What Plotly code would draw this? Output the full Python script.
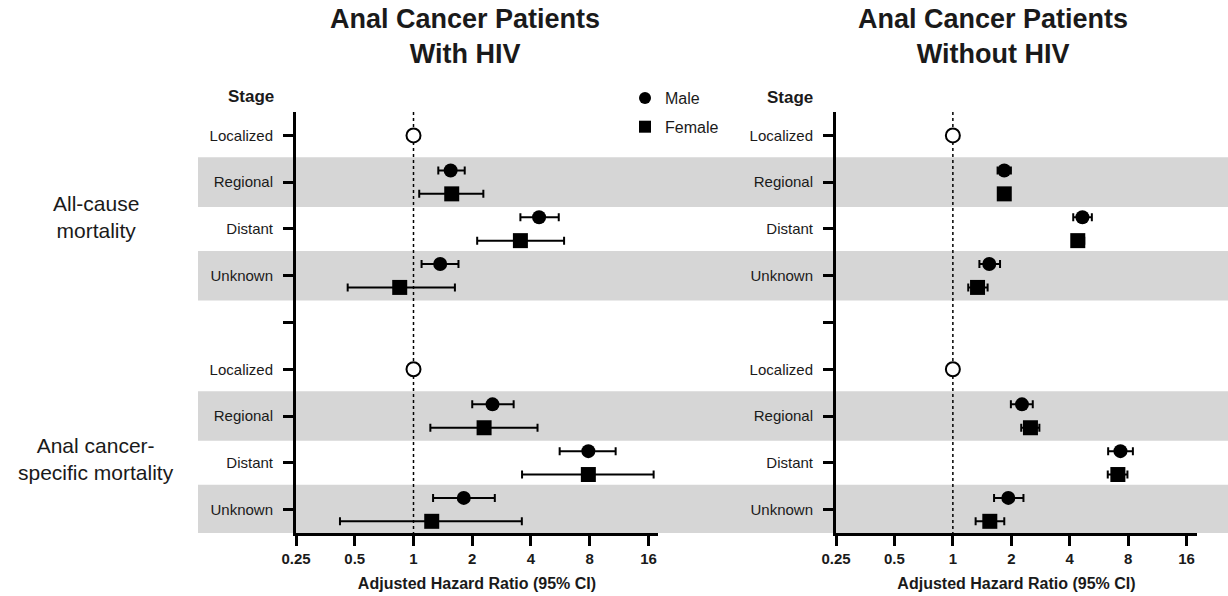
import math
import plotly.graph_objects as go

# ---------------- data ----------------
stages = ["Localized", "Regional", "Distant", "Unknown"]
outcomes = ["All-cause<br>mortality", "Anal cancer-<br>specific mortality"]
x_ticks = [0.25, 0.5, 1, 2, 4, 8, 16]
x_tick_text = ["0.25", "0.5", "1", "2", "4", "8", "16"]
reference_hr = 1.0  # Localized = reference

# Values for Regional, Distant, Unknown
# With HIV, all-cause mortality
hiv_ac_male_hr = [1.55, 4.40, 1.37]
hiv_ac_male_lo = [1.34, 3.53, 1.10]
hiv_ac_male_hi = [1.83, 5.55, 1.70]
hiv_ac_female_hr = [1.57, 3.53, 0.85]
hiv_ac_female_lo = [1.07, 2.12, 0.46]
hiv_ac_female_hi = [2.28, 5.91, 1.63]
# With HIV, anal cancer-specific mortality
hiv_cs_male_hr = [2.54, 7.87, 1.81]
hiv_cs_male_lo = [2.00, 5.61, 1.26]
hiv_cs_male_hi = [3.26, 10.86, 2.61]
hiv_cs_female_hr = [2.30, 7.87, 1.24]
hiv_cs_female_lo = [1.22, 3.60, 0.42]
hiv_cs_female_hi = [4.32, 17.0, 3.59]
# Without HIV, all-cause mortality
nohiv_ac_male_hr = [1.84, 4.65, 1.54]
nohiv_ac_male_lo = [1.70, 4.17, 1.37]
nohiv_ac_male_hi = [1.99, 5.20, 1.75]
nohiv_ac_female_hr = [1.84, 4.40, 1.34]
nohiv_ac_female_lo = [1.76, 4.12, 1.20]
nohiv_ac_female_hi = [1.93, 4.75, 1.51]
# Without HIV, anal cancer-specific mortality
nohiv_cs_male_hr = [2.27, 7.30, 1.93]
nohiv_cs_male_lo = [1.99, 6.31, 1.63]
nohiv_cs_male_hi = [2.58, 8.46, 2.31]
nohiv_cs_female_hr = [2.51, 7.08, 1.55]
nohiv_cs_female_lo = [2.25, 6.28, 1.31]
nohiv_cs_female_hi = [2.79, 7.93, 1.84]

# ---------------- layout helpers ----------------
PAGE_OFF = 0                # body margin is removed by post_script below
W, H = 1228 - PAGE_OFF, 596 - PAGE_OFF
FONT = "Liberation Sans, Arial, Helvetica, sans-serif"
TXT = "#1a1a1a"
BAND = "#d6d6d6"


def px(x):  # screen pixel -> paper x
    return (x - PAGE_OFF) / W


def py(y):  # screen pixel -> paper y
    return 1 - (y - PAGE_OFF) / H


n_st = len(stages)
block = n_st + 1  # 4 stages + a blank separator row
n_rows = 2 * block - 1
rows_all = list(range(n_rows))  # 0..8
tick_text = stages + [""] + stages
OFF = 0.25


def rows_for(b):
    return [b * block + i for i in range(1, n_st)]


fig = go.Figure()


def add_panel(xa, ya, male, female, showlegend):
    for sex, data, sym, off in (("Male", male, "circle", -OFF),
                                ("Female", female, "square", OFF)):
        ys, xs, lo, hi = [], [], [], []
        for b, (hr, l, h) in enumerate(data):
            ys += [r + off for r in rows_for(b)]
            xs += hr
            lo += l
            hi += h
        fig.add_trace(go.Scatter(
            x=xs, y=ys, mode="markers", name=sex, legendgroup=sex,
            showlegend=showlegend, xaxis=xa, yaxis=ya,
            marker=dict(symbol=sym, size=15 if sym == "square" else 14,
                        color="black", line=dict(width=0)),
            error_x=dict(type="data", symmetric=False,
                         array=[h_ - x_ for h_, x_ in zip(hi, xs)],
                         arrayminus=[x_ - l_ for l_, x_ in zip(lo, xs)],
                         color="black", thickness=2, width=4),
        ))
    # reference (Localized)
    fig.add_trace(go.Scatter(
        x=[reference_hr, reference_hr], y=[0, block], mode="markers",
        showlegend=False, xaxis=xa, yaxis=ya,
        marker=dict(symbol="circle", size=14, color="white",
                    line=dict(color="black", width=2)),
    ))


add_panel("x", "y",
          [(hiv_ac_male_hr, hiv_ac_male_lo, hiv_ac_male_hi),
           (hiv_cs_male_hr, hiv_cs_male_lo, hiv_cs_male_hi)],
          [(hiv_ac_female_hr, hiv_ac_female_lo, hiv_ac_female_hi),
           (hiv_cs_female_hr, hiv_cs_female_lo, hiv_cs_female_hi)],
          True)
add_panel("x2", "y2",
          [(nohiv_ac_male_hr, nohiv_ac_male_lo, nohiv_ac_male_hi),
           (nohiv_cs_male_hr, nohiv_cs_male_lo, nohiv_cs_male_hi)],
          [(nohiv_ac_female_hr, nohiv_ac_female_lo, nohiv_ac_female_hi),
           (nohiv_cs_female_hr, nohiv_cs_female_lo, nohiv_cs_female_hi)],
          False)

# shaded bands for Regional and Unknown rows, spanning both panels
shapes = []
for b in range(2):
    for i in (1, 3):
        r = b * block + i
        shapes.append(dict(type="rect", xref="paper", yref="y",
                           x0=px(198), x1=1.0, y0=r - 0.53, y1=r + 0.53,
                           fillcolor=BAND, line=dict(width=0), layer="below"))
# dotted reference line at HR = 1
for xa in ("x", "x2"):
    shapes.append(dict(type="line", xref=xa, yref="y",
                       x0=reference_hr, x1=reference_hr, y0=-0.5, y1=n_rows - 0.5,
                       line=dict(color="black", width=1.5, dash="dot"), layer="below"))

ydom = [py(533), py(112)]
common_x = dict(type="log", tickvals=x_ticks, ticktext=x_tick_text,
                showline=True, linewidth=3, linecolor="black",
                ticks="outside", ticklen=10, tickwidth=3, tickcolor="black",
                showgrid=False, zeroline=False, automargin=False,
                tickfont=dict(family=FONT, size=15, color=TXT, weight="bold"),
                title=dict(text="Adjusted Hazard Ratio (95% CI)", standoff=12,
                           font=dict(family=FONT, size=16, color=TXT, weight="bold")))
common_y = dict(range=[n_rows - 0.5, -0.5], tickvals=rows_all, ticktext=tick_text,
                showline=True, linewidth=3, linecolor="black",
                ticks="outside", ticklen=10, tickwidth=3, tickcolor="black",
                showgrid=False, zeroline=False, automargin=False, domain=ydom,
                ticklabelstandoff=7,
                tickfont=dict(family=FONT, size=15, color=TXT))

fig.update_layout(
    width=W, height=H,
    margin=dict(l=0, r=0, t=0, b=0),
    paper_bgcolor="white", plot_bgcolor="rgba(0,0,0,0)",
    font=dict(family=FONT, color=TXT),
    xaxis=dict(common_x, domain=[px(296), px(658)],
               range=[math.log10(0.25), math.log10(17.9)], anchor="y"),
    yaxis=dict(common_y, anchor="x"),
    xaxis2=dict(common_x, domain=[px(836), px(1197)],
                range=[math.log10(0.25), math.log10(18.1)], anchor="y2"),
    yaxis2=dict(common_y, anchor="x2"),
    shapes=shapes,
    showlegend=True,
    legend=dict(x=px(625), y=py(81), xanchor="left", yanchor="top",
                bgcolor="rgba(0,0,0,0)", font=dict(family=FONT, size=16, color=TXT),
                itemsizing="constant", tracegroupgap=5),
    annotations=[
        dict(text="<b>Anal Cancer Patients<br>With HIV</b>", x=px(465), y=py(36.5),
             xref="paper", yref="paper", showarrow=False, xanchor="center", yanchor="middle",
             font=dict(family=FONT, size=27, color=TXT)),
        dict(text="<b>Anal Cancer Patients<br>Without HIV</b>", x=px(993), y=py(36.5),
             xref="paper", yref="paper", showarrow=False, xanchor="center", yanchor="middle",
             font=dict(family=FONT, size=27, color=TXT)),
        dict(text="<b>Stage</b>", x=px(251), y=py(96), xref="paper", yref="paper",
             showarrow=False, xanchor="center", yanchor="middle",
             font=dict(family=FONT, size=17, color=TXT)),
        dict(text="<b>Stage</b>", x=px(790), y=py(97), xref="paper", yref="paper",
             showarrow=False, xanchor="center", yanchor="middle",
             font=dict(family=FONT, size=17, color=TXT)),
        dict(text=outcomes[0], x=px(96), y=py(217), xref="paper", yref="paper",
             showarrow=False, xanchor="center", yanchor="middle", align="center",
             font=dict(family=FONT, size=21, color=TXT)),
        dict(text=outcomes[1], x=px(96), y=py(459), xref="paper", yref="paper",
             showarrow=False, xanchor="center", yanchor="middle", align="center",
             font=dict(family=FONT, size=21, color=TXT)),
    ],
)

fig.write_html("out.html", config={"displayModeBar": False},
               post_script="document.body.style.margin='0px';")
